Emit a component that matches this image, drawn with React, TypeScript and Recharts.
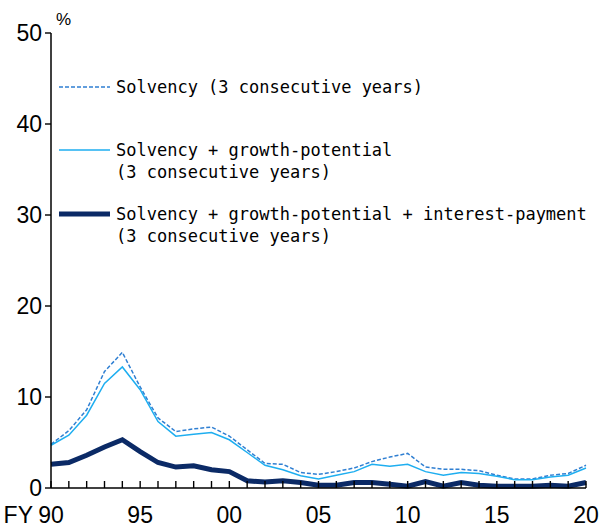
import { LineChart, Line, XAxis, YAxis } from 'recharts';

const years = [
  1990, 1991, 1992, 1993, 1994, 1995, 1996, 1997, 1998, 1999,
  2000, 2001, 2002, 2003, 2004, 2005, 2006, 2007, 2008, 2009,
  2010, 2011, 2012, 2013, 2014, 2015, 2016, 2017, 2018, 2019, 2020,
];
const solvency = [
  4.8, 6.3, 8.6, 12.8, 14.9, 11.1, 7.7, 6.2, 6.5, 6.7,
  5.7, 4.2, 2.7, 2.6, 1.7, 1.5, 1.8, 2.2, 2.9, 3.4,
  3.8, 2.3, 2.05, 2.05, 1.9, 1.4, 1.0, 1.0, 1.4, 1.6, 2.5,
];
const growth = [
  4.7, 5.8, 8.0, 11.5, 13.3, 10.8, 7.3, 5.7, 5.9, 6.1,
  5.3, 3.9, 2.5, 2.0, 1.35, 1.0, 1.4, 1.8, 2.6, 2.4,
  2.6, 1.8, 1.4, 1.7, 1.6, 1.3, 0.9, 0.9, 1.2, 1.4, 2.2,
];
const interest = [
  2.6, 2.8, 3.6, 4.5, 5.3, 4.0, 2.8, 2.3, 2.45, 2.0,
  1.8, 0.8, 0.65, 0.8, 0.6, 0.3, 0.3, 0.6, 0.6, 0.4,
  0.2, 0.7, 0.2, 0.6, 0.3, 0.2, 0.2, 0.2, 0.3, 0.2, 0.6,
];
const yTicks = [0, 10, 20, 30, 40, 50];

const data = years.map((year, i) => ({
  year,
  solvency: solvency[i],
  growth: growth[i],
  interest: interest[i],
}));

const C_DASH = '#2f7fd2';
const C_LIGHT = '#1eaef0';
const C_DARK = '#0b2a66';
const MONO = '"DejaVu Sans Mono", "Liberation Mono", monospace';
const AXIS_FONT = '"Liberation Sans", Arial, sans-serif';

const YearTick = (props: any) => {
  const { x, y, payload } = props;
  const yr = payload.value as number;
  const lbl = String(yr % 100).padStart(2, '0');
  return (
    <g>
      <line x1={x} x2={x} y1={y} y2={y - 7} stroke="#000" strokeWidth={1.4} />
      {yr % 5 === 0 && (
        <text x={x} y={y + 35} textAnchor="middle" fontSize={23} fontFamily={AXIS_FONT} fill="#000">
          {lbl}
        </text>
      )}
      {yr === 1990 && (
        <text x={x - 18} y={y + 35} textAnchor="end" fontSize={23} fontFamily={AXIS_FONT} fill="#000">
          FY
        </text>
      )}
    </g>
  );
};

// legend, placed over the chart so it doesn't eat plot height
const legendRows = [
  { lines: ['Solvency (3 consecutive years)'], color: C_DASH, width: 1.5, dash: '4 2', top: 87 },
  { lines: ['Solvency + growth-potential', '(3 consecutive years)'], color: C_LIGHT, width: 1.5, dash: undefined, top: 150 },
  { lines: ['Solvency + growth-potential + interest-payment', '(3 consecutive years)'], color: C_DARK, width: 5, dash: undefined, top: 214 },
];

const LegendBox = () => (
  <svg width={560} height={200} style={{ position: 'absolute', left: 59, top: 60, overflow: 'visible' }}>
    {legendRows.map((r, i) => (
      <g key={i}>
        <line x1={0} x2={51} y1={r.top - 60} y2={r.top - 60} stroke={r.color} strokeWidth={r.width} strokeDasharray={r.dash} />
        {r.lines.map((t, j) => (
          <text key={j} x={57} y={r.top - 60 + 6 + j * 22} fontSize={17} fontFamily={MONO} fill="#000">
            {t}
          </text>
        ))}
      </g>
    ))}
  </svg>
);

export default function App() {
  return (
    <div style={{ position: 'absolute', left: 0, top: 0, width: 601, height: 531, background: '#fff' }}>
      <LineChart width={601} height={531} data={data} margin={{ top: 33, right: 15, bottom: 13, left: 6 }}>
        <XAxis
          dataKey="year"
          type="number"
          domain={[1990, 2020]}
          ticks={years}
          interval={0}
          height={30}
          tickSize={0}
          tickMargin={0}
          tick={<YearTick />}
          axisLine={{ stroke: '#000', strokeWidth: 1.5 }}
        />
        <YAxis
          domain={[0, 50]}
          ticks={yTicks}
          interval={0}
          width={45}
          tickSize={6}
          tickMargin={3}
          tick={{ fontSize: 23, fontFamily: AXIS_FONT, fill: '#000' }}
          tickLine={{ stroke: '#000', strokeWidth: 1.4 }}
          axisLine={{ stroke: '#000', strokeWidth: 1.5 }}
          label={{
            content: () => (
              <text x={56} y={25} fontSize={17} fontFamily={AXIS_FONT} fill="#000">
                %
              </text>
            ),
          }}
        />
        <Line
          dataKey="solvency"
          stroke={C_DASH}
          strokeWidth={1.5}
          strokeDasharray="4 2"
          dot={false}
          isAnimationActive={false}
        />
        <Line dataKey="growth" stroke={C_LIGHT} strokeWidth={1.5} dot={false} isAnimationActive={false} />
        <Line dataKey="interest" stroke={C_DARK} strokeWidth={5} dot={false} isAnimationActive={false} />
      </LineChart>
      <LegendBox />
    </div>
  );
}
